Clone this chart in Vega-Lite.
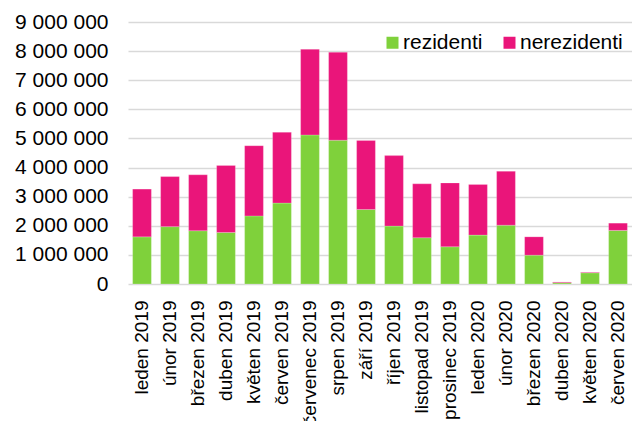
{
  "$schema": "https://vega.github.io/schema/vega-lite/v6.json",
  "width": 504,
  "height": 262,
  "autosize": "none",
  "padding": {"left": 128, "top": 22, "right": 0, "bottom": 137},
  "background": "#ffffff",
  "data": {
    "values": [
      {"mesic": "leden 2019", "typ": "rezidenti", "hoste": 1620000},
      {"mesic": "leden 2019", "typ": "nerezidenti", "hoste": 1640000},
      {"mesic": "únor 2019", "typ": "rezidenti", "hoste": 1970000},
      {"mesic": "únor 2019", "typ": "nerezidenti", "hoste": 1720000},
      {"mesic": "březen 2019", "typ": "rezidenti", "hoste": 1830000},
      {"mesic": "březen 2019", "typ": "nerezidenti", "hoste": 1920000},
      {"mesic": "duben 2019", "typ": "rezidenti", "hoste": 1770000},
      {"mesic": "duben 2019", "typ": "nerezidenti", "hoste": 2300000},
      {"mesic": "květen 2019", "typ": "rezidenti", "hoste": 2340000},
      {"mesic": "květen 2019", "typ": "nerezidenti", "hoste": 2410000},
      {"mesic": "červen 2019", "typ": "rezidenti", "hoste": 2780000},
      {"mesic": "červen 2019", "typ": "nerezidenti", "hoste": 2430000},
      {"mesic": "červenec 2019", "typ": "rezidenti", "hoste": 5120000},
      {"mesic": "červenec 2019", "typ": "nerezidenti", "hoste": 2940000},
      {"mesic": "srpen 2019", "typ": "rezidenti", "hoste": 4940000},
      {"mesic": "srpen 2019", "typ": "nerezidenti", "hoste": 3020000},
      {"mesic": "září 2019", "typ": "rezidenti", "hoste": 2560000},
      {"mesic": "září 2019", "typ": "nerezidenti", "hoste": 2370000},
      {"mesic": "říjen 2019", "typ": "rezidenti", "hoste": 1990000},
      {"mesic": "říjen 2019", "typ": "nerezidenti", "hoste": 2420000},
      {"mesic": "listopad 2019", "typ": "rezidenti", "hoste": 1590000},
      {"mesic": "listopad 2019", "typ": "nerezidenti", "hoste": 1850000},
      {"mesic": "prosinec 2019", "typ": "rezidenti", "hoste": 1280000},
      {"mesic": "prosinec 2019", "typ": "nerezidenti", "hoste": 2190000},
      {"mesic": "leden 2020", "typ": "rezidenti", "hoste": 1680000},
      {"mesic": "leden 2020", "typ": "nerezidenti", "hoste": 1740000},
      {"mesic": "únor 2020", "typ": "rezidenti", "hoste": 2020000},
      {"mesic": "únor 2020", "typ": "nerezidenti", "hoste": 1850000},
      {"mesic": "březen 2020", "typ": "rezidenti", "hoste": 990000},
      {"mesic": "březen 2020", "typ": "nerezidenti", "hoste": 630000},
      {"mesic": "duben 2020", "typ": "rezidenti", "hoste": 45000},
      {"mesic": "duben 2020", "typ": "nerezidenti", "hoste": 25000},
      {"mesic": "květen 2020", "typ": "rezidenti", "hoste": 385000},
      {"mesic": "květen 2020", "typ": "nerezidenti", "hoste": 20000},
      {"mesic": "červen 2020", "typ": "rezidenti", "hoste": 1840000},
      {"mesic": "červen 2020", "typ": "nerezidenti", "hoste": 250000}
    ]
  },
  "mark": {"type": "bar", "stroke": "#ffffff", "strokeOpacity": 0.35, "strokeWidth": 0.6},
  "encoding": {
    "x": {
      "field": "mesic",
      "type": "nominal",
      "sort": null,
      "scale": {"paddingInner": 0.33, "paddingOuter": 0.165},
      "axis": {
        "title": null,
        "labelAngle": -90,
        "labelFontSize": 19,
        "labelFont": "Liberation Sans",
        "labelColor": "#000000",
        "labelPadding": 16,
        "ticks": false,
        "domain": false,
        "labelOverlap": false
      }
    },
    "y": {
      "field": "hoste",
      "type": "quantitative",
      "stack": "zero",
      "scale": {"domain": [0, 9000000], "nice": false},
      "axis": {
        "title": null,
        "values": [0, 1000000, 2000000, 3000000, 4000000, 5000000, 6000000, 7000000, 8000000, 9000000],
        "labelExpr": "replace(format(datum.value, ','), regexp(',', 'g'), ' ')",
        "labelFontSize": 21,
        "labelFont": "Liberation Sans",
        "labelColor": "#000000",
        "labelPadding": 20,
        "ticks": false,
        "domain": false,
        "grid": true,
        "gridColor": "#d9d9d9",
        "gridWidth": 1.5
      }
    },
    "color": {
      "field": "typ",
      "type": "nominal",
      "scale": {"domain": ["rezidenti", "nerezidenti"], "range": ["#7fd13b", "#ea157a"]},
      "legend": {
        "title": null,
        "orient": "none",
        "legendX": 254,
        "legendY": 10,
        "direction": "horizontal",
        "symbolType": "square",
        "symbolSize": 144,
        "symbolStrokeWidth": 0,
        "labelFontSize": 21,
        "labelFont": "Liberation Sans",
        "labelColor": "#000000",
        "labelOffset": 0,
        "columnPadding": 16
      }
    },
    "order": {"field": "typ", "sort": "descending"}
  },
  "config": {
    "view": {"stroke": null}
  }
}
